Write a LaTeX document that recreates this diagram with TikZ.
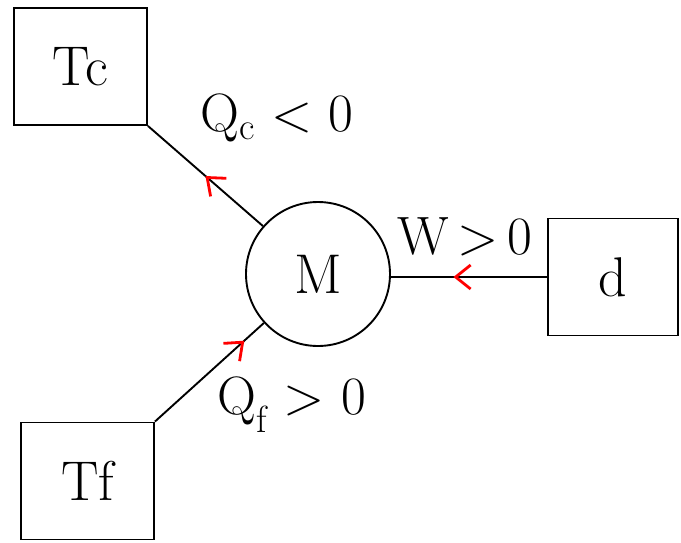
\documentclass[tikz,border=0pt]{standalone}
\usetikzlibrary{arrows.meta,decorations.markings}
\begin{document}
\begin{tikzpicture}[x=1pt,y=-1pt,line width=1.9pt,font=\fontsize{56}{60}\selectfont,
 bloc/.style={draw,minimum width=133pt,minimum height=117pt,inner sep=0pt},
 moteur/.style={draw,circle,minimum size=144pt,inner sep=0pt},
 legende/.style={font=\fontsize{54}{58}\selectfont},
 pointe/.tip={Straight Barb[length=15pt,width=24pt,line width=2.8pt,color=red]},
 vers/.style={postaction={decorate},decoration={markings,
  mark=at position #1 with {\arrow{pointe}}}},
 depuis/.style={postaction={decorate},decoration={markings,
  mark=at position #1 with {\arrowreversed{pointe}}}}]
 \useasboundingbox (0,0) rectangle (681,542);
 \node[bloc] (Tc) at (80.5,66.5) {Tc};
 \node[bloc] (Tf) at (87.5,481) {Tf};
 \node[bloc,minimum width=130pt] (d) at (613,277) {d};
 \node[moteur] (M) at (318,274) {M};
 \draw[depuis=.5] (Tc.south east) -- (M);
 \draw[vers=.82] (Tf.north east) -- (M);
 \draw[vers=.6] (d.west) -- (d.west -| M.east);
 \node[legende] (Qc) at (277,118) {Q\textsubscript{c} < 0};
 \node[legende] (W) at (465,237) {W\,>\,0};
 \node[legende] (Qf) at (292,405) {Q\textsubscript{f} > 0};
\end{tikzpicture}
\end{document}
